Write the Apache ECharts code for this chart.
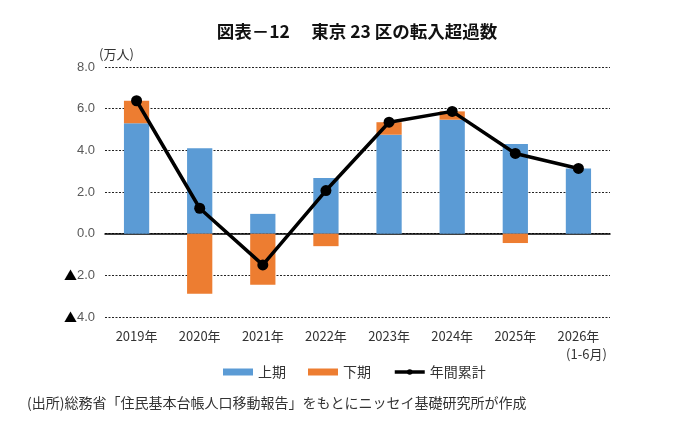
<!DOCTYPE html>
<html>
<head>
<meta charset="utf-8">
<script src="https://cdn.jsdelivr.net/npm/echarts@6/dist/echarts.min.js"></script>
<style>
  html, body { margin: 0; padding: 0; background: #fff; }
  #chart { width: 680px; height: 444px; }
</style>
</head>
<body>
<div id="chart"></div>
<script>
    // 東京23区の転入超過数（万人）
    const years = ["2019年", "2020年", "2021年", "2022年", "2023年", "2024年", "2025年", "2026年"];
    const yearNotes = ["", "", "", "", "", "", "", "(1-6月)"];
    const firstHalf = [5.3, 4.1, 0.95, 2.67, 4.75, 5.47, 4.3, 3.13];
    const secondHalf = [1.08, -2.88, -2.45, -0.6, 0.6, 0.4, -0.45, null];
    const annualTotal = [6.38, 1.22, -1.5, 2.07, 5.35, 5.87, 3.85, 3.13];

    const jp = '"Noto Sans CJK JP", sans-serif';
    const num = '"Liberation Sans", Arial, sans-serif';

    const chart = echarts.init(document.getElementById("chart"));
    chart.setOption({
        animation: false,
        title: {
            text: "図表－12　 東京 23 区の転入超過数",
            left: 352, top: 18, textAlign: "center",
            textStyle: {fontFamily: jp, fontSize: 17.5, fontWeight: "bold", color: "#111"}
        },
        grid: {left: 105, right: 70, top: 67, bottom: 127},
        legend: {
            bottom: 60, left: 218,
            itemWidth: 30, itemHeight: 7, itemGap: 22,
            textStyle: {fontFamily: jp, fontSize: 14, color: "#333"},
            data: [
                {name: "上期", icon: "rect"},
                {name: "下期", icon: "rect"},
                {name: "年間累計", lineStyle: {width: 3.5, color: "#000"}}
            ]
        },
        xAxis: {
            type: "category",
            data: years,
            axisLine: {onZero: true, lineStyle: {color: "#000", width: 1.5}},
            axisTick: {show: false},
            axisLabel: {
                interval: 0, margin: 10,
                fontFamily: jp, fontSize: 13, color: "#333", lineHeight: 18,
                formatter: (v, i) => yearNotes[i] ? `${v}\n{n|${yearNotes[i]}}` : v,
                rich: {n: {fontFamily: jp, fontSize: 13, color: "#333", lineHeight: 18, padding: [0, 0, 0, 16]}}
            }
        },
        yAxis: {
            type: "value",
            min: -4, max: 8, interval: 2,
            name: "(万人)",
            nameLocation: "end",
            nameGap: 5,
            nameTextStyle: {fontFamily: jp, fontSize: 13, color: "#333", align: "left", padding: [0, 0, 0, -6]},
            axisLine: {show: false},
            axisTick: {show: false},
            axisLabel: {
                fontFamily: num, fontSize: 13, color: "#595959", margin: 10,
                formatter: v => (v < 0 ? "{t|▲}" : "") + Math.abs(v).toFixed(1),
                rich: {t: {fontFamily: jp, fontSize: 13, color: "#000"}}
            },
            splitLine: {lineStyle: {type: [2, 1.5], color: "#222", width: 1}}
        },
        series: [{
            name: "上期", type: "bar", stack: "h", data: firstHalf,
            barWidth: "40%", itemStyle: {color: "#5B9BD5"}
        }, {
            name: "下期", type: "bar", stack: "h", data: secondHalf,
            barWidth: "40%", itemStyle: {color: "#ED7D31"}
        }, {
            name: "年間累計", type: "line", data: annualTotal,
            symbol: "circle", symbolSize: 11,
            lineStyle: {color: "#000", width: 3.5},
            itemStyle: {color: "#000"}
        }],
        graphic: [{
            type: "text", left: 27, top: 396,
            style: {text: "(出所)総務省「住民基本台帳人口移動報告」をもとにニッセイ基礎研究所が作成", font: '14px "Noto Sans CJK JP"', fill: "#333"}
        }]
    });
</script>
</body>
</html>
